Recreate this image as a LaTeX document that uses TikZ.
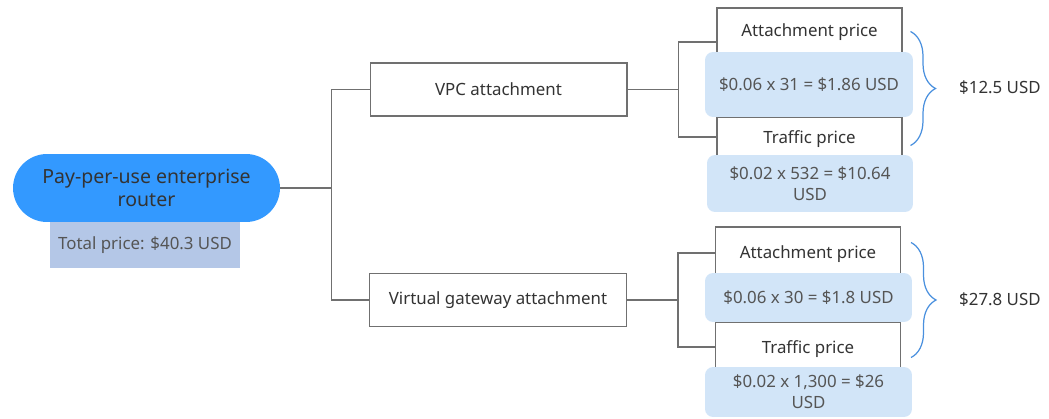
\documentclass[tikz,border=0pt]{standalone}
\usepackage{fontspec}
\setmainfont{Noto Sans}
\usetikzlibrary{calc,decorations.pathreplacing}
\definecolor{rootblue}{HTML}{3399FF}
\definecolor{totalfill}{HTML}{B4C7E7}
\definecolor{valfill}{HTML}{D2E5F8}
\definecolor{bracec}{HTML}{4A90DE}
\definecolor{linegray}{HTML}{707070}
\definecolor{txtdark}{HTML}{333333}
\definecolor{txtgray}{HTML}{555555}

\begin{document}
\begin{tikzpicture}[x=0.02cm,y=-0.02cm,font=\fontsize{9.6}{12}\selectfont,text=txtdark,
root/.style={fill=rootblue,rounded corners=0.68cm,minimum width=5.34cm,minimum height=1.36cm,align=center,font=\fontsize{11.1}{13.5}\selectfont},
total/.style={fill=totalfill,minimum width=3.8cm,minimum height=0.92cm,text=txtgray},
attach/.style={draw=linegray,line width=.6pt,fill=white,minimum width=5.14cm,minimum height=1.06cm},
pricebox/.style={draw=linegray,line width=.6pt,fill=white,minimum width=3.7cm,text depth=0pt},
valbox/.style={fill=valfill,rounded corners=0.16cm,align=center,text=txtgray},
link/.style={draw=linegray,line width=.7pt},
brace/.style={draw=bracec,line width=.7pt,decorate,decoration={brace,amplitude=0.5cm}}]
\useasboundingbox (0,0) rectangle (1049,419);
\node[total] (total) at (145,245) {Total price: \$40.3 USD};
\node[root] (root) at (146.5,188) {Pay-per-use enterprise\\router};
\node[attach] (vpc) at (498.5,89.5) {VPC attachment};
\node[attach] (vgw) at (498,300) {Virtual gateway attachment};
\draw[link] (root.east) -- ++(51,0) coordinate (f0) |- (vpc.west) (f0) |- (vgw.west);

\node[pricebox,minimum height=1.36cm,label={[anchor=center,yshift=-0.5cm]north:Attachment price}] (attA) at (809.5,42) {};
\node[pricebox,minimum height=0.8cm] (trfA) at (809.5,137) {Traffic price};
\node[valbox,minimum width=4.16cm,minimum height=1.3cm] (valA) at (809,84.5) {\$0.06 x 31 = \$1.86 USD};
\node[valbox,minimum width=4.12cm,minimum height=1.14cm] (valTA) at (810,183.5) {\$0.02 x 532 = \$10.64\\USD};
\draw[link] (vpc.east) -- ++(51,0) coordinate (fa) |- (attA.west) (fa) |- (trfA.west);
\draw[brace] ($(attA.north east)+(8,24)$) -- ($(trfA.south east)+(8,-12)$);
\node[anchor=west] (sumA) at (953,88) {\$12.5 USD};

\node[pricebox,minimum height=1.04cm,label={[anchor=center,yshift=-0.56cm]north:Attachment price}] (attB) at (808,253) {};
\node[pricebox,minimum height=1cm] (trfB) at (808,347) {Traffic price};
\node[valbox,minimum width=4.14cm,minimum height=0.98cm] (valB) at (808.5,297.5) {\$0.06 x 30 = \$1.8 USD};
\node[valbox,minimum width=4.14cm,minimum height=1cm] (valTB) at (808.5,392) {\$0.02 x 1,300 = \$26\\USD};
\draw[link] (vgw.east) -- ++(51,0) coordinate (fb) |- (attB.west) (fb) |- (trfB.west);
\draw[brace] ($(attB.north east)+(10,16)$) -- ($(trfB.south east)+(10,-15)$);
\node[anchor=west] (sumB) at (953,300) {\$27.8 USD};
\end{tikzpicture}
\end{document}
